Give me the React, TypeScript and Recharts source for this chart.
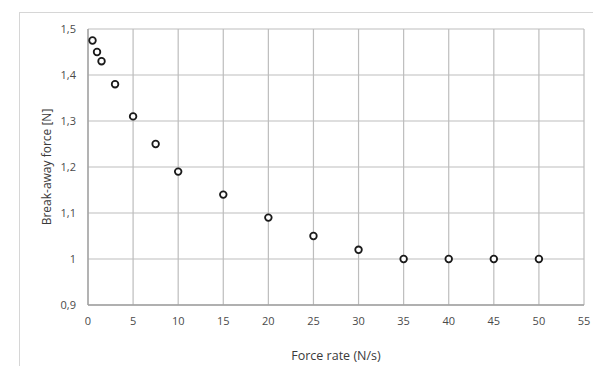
import {
  ScatterChart,
  Scatter,
  XAxis,
  YAxis,
  CartesianGrid,
} from "recharts";

const forceRate = [0.5, 1, 1.5, 3, 5, 7.5, 10, 15, 20, 25, 30, 35, 40, 45, 50];
const breakAwayForce = [
  1.475, 1.45, 1.43, 1.38, 1.31, 1.25, 1.19, 1.14, 1.09, 1.05, 1.02, 1, 1, 1, 1,
];
const xTicks = [0, 5, 10, 15, 20, 25, 30, 35, 40, 45, 50, 55];
const yTicks = [0.9, 1.0, 1.1, 1.2, 1.3, 1.4, 1.5];

const points = forceRate.map((x, i) => ({ x, y: breakAwayForce[i] }));

const fmtComma = (v: number) => String(Math.round(v * 10) / 10).replace(".", ",");

const tickStyle = { fontSize: 11, fill: "#4a4a4a", fontFamily: "Open Sans" };

const OpenDot = (props: any) => {
  const { cx, cy } = props;
  return (
    <circle cx={cx} cy={cy} r={3.3} fill="#ffffff" stroke="#1a1a1a" strokeWidth={1.8} />
  );
};

const App = () => {
  return (
    <div style={{ position: "relative", width: 593, height: 358 }}>
      <div
        style={{
          position: "absolute",
          left: 11,
          top: 4,
          width: 600,
          height: 400,
          borderLeft: "1.5px solid #d6d6d6",
          borderTop: "1.5px solid #d6d6d6",
        }}
      />
      <div style={{ position: "absolute", left: 0, top: 0 }}>
        <ScatterChart
          width={593}
          height={358}
          margin={{ top: 21, right: 17, left: 0, bottom: 0 }}
        >
          <CartesianGrid stroke="#bdbdbd" strokeWidth={1.2} />
          <XAxis
            type="number"
            dataKey="x"
            domain={[0, 55]}
            ticks={xTicks}
            tickLine={false}
            tickSize={4}
            tickMargin={8}
            height={61}
            axisLine={{ stroke: "#a0a0a0", strokeWidth: 1.3 }}
            tick={tickStyle}
            label={{
              value: "Force rate (N/s)",
              position: "insideBottom",
              offset: 6,
              style: { fontSize: 12.5, fill: "#3a3a3a", fontFamily: "Open Sans" },
            }}
          />
          <YAxis
            type="number"
            dataKey="y"
            domain={[0.9, 1.5]}
            ticks={yTicks}
            tickFormatter={fmtComma}
            tickLine={false}
            tickSize={4}
            tickMargin={8}
            width={80}
            axisLine={{ stroke: "#a0a0a0", strokeWidth: 1.3 }}
            tick={tickStyle}
            label={{
              value: "Break-away force [N]",
              angle: -90,
              position: "insideLeft",
              offset: 39,
              style: {
                fontSize: 12,
                fill: "#3a3a3a",
                fontFamily: "Open Sans",
                textAnchor: "middle",
              },
            }}
          />
          <Scatter data={points} shape={<OpenDot />} isAnimationActive={false} />
        </ScatterChart>
      </div>
    </div>
  );
};

export default App;
